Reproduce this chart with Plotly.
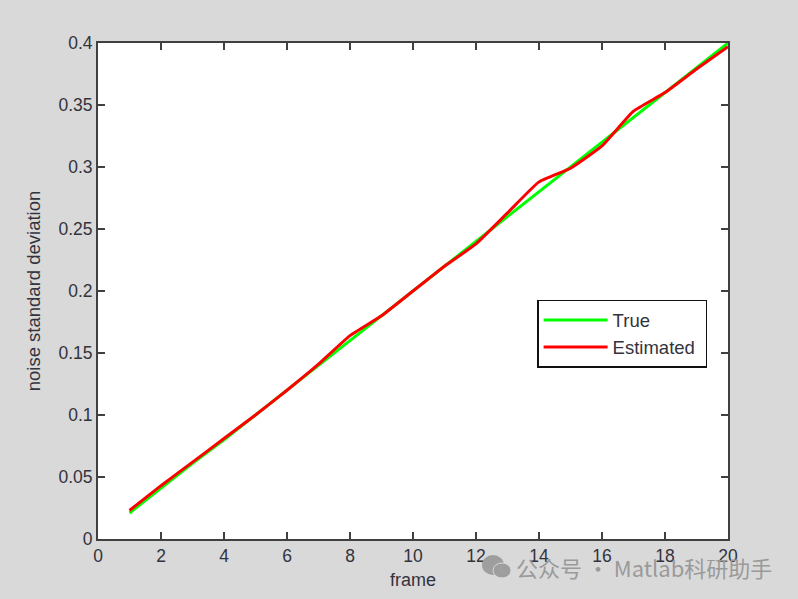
import plotly.graph_objects as go

frames = list(range(1, 21))
true_values = [0.021, 0.041, 0.061, 0.080, 0.100, 0.120, 0.140, 0.160, 0.180, 0.200,
               0.220, 0.240, 0.260, 0.280, 0.300, 0.320, 0.340, 0.360, 0.380, 0.400]
estimated_values = [0.023, 0.043, 0.062, 0.081, 0.100, 0.120, 0.141, 0.164, 0.180, 0.200,
                    0.220, 0.238, 0.263, 0.288, 0.299, 0.317, 0.345, 0.360, 0.379, 0.397]
x_ticks = list(range(0, 21, 2))
y_ticks = [0, 0.05, 0.1, 0.15, 0.2, 0.25, 0.3, 0.35, 0.4]
y_labels = ["0", "0.05", "0.1", "0.15", "0.2", "0.25", "0.3", "0.35", "0.4"]

FONT = "Liberation Sans, Arial, sans-serif"
INK = "#33333d"
BG = "#d9d9d9"

fig = go.Figure()
fig.add_trace(go.Scatter(x=frames, y=true_values, mode="lines", name="True",
                         line=dict(color="#00ff00", width=3)))
fig.add_trace(go.Scatter(x=frames, y=estimated_values, mode="lines", name="Estimated\u00a0",
                         line=dict(color="#ff0000", width=3, shape="spline", smoothing=0.4)))

axis_common = dict(showgrid=False, zeroline=False, showline=True, linecolor="#404040",
                   linewidth=2, mirror="ticks", ticks="inside", ticklen=7, tickwidth=1.5,
                   tickcolor="#404040",
                   tickfont=dict(family=FONT, size=17.5, color=INK))

fig.update_xaxes(range=[0, 20], tickvals=x_ticks, ticktext=[str(v) for v in x_ticks],
                 title=dict(text="frame", standoff=8,
                            font=dict(family=FONT, size=18, color=INK)),
                 **axis_common)
fig.update_yaxes(range=[0, 0.4], tickvals=y_ticks, ticktext=y_labels,
                 title=dict(text="noise standard deviation", standoff=13,
                            font=dict(family=FONT, size=18.5, color=INK)),
                 **axis_common)

fig.update_layout(
    width=798, height=599, autosize=False,
    margin=dict(l=98, r=70, t=43, b=60, pad=0),
    paper_bgcolor=BG, plot_bgcolor="white",
    showlegend=True,
    legend=dict(x=0.697, y=0.482, xanchor="left", yanchor="top",
                bgcolor="white", bordercolor="#111111", borderwidth=1.5,
                itemwidth=64, tracegroupgap=0,
                font=dict(family=FONT, size=18.5, color=INK)),
)

# Watermark
fig.add_annotation(xref="paper", yref="paper", x=1.0725, y=-0.0565,
                   xanchor="right", yanchor="middle", showarrow=False,
                   text="公众号 · Matlab科研助手",
                   font=dict(family="Noto Sans CJK SC, sans-serif", size=22, color="#9a9a9a"))
fig.add_shape(type="circle", xref="paper", yref="paper", layer="above",
              x0=0.6095, x1=0.6444, y0=-0.0726, y1=-0.0323,
              fillcolor="#9e9e9e", line=dict(width=0))
fig.add_shape(type="circle", xref="paper", yref="paper", layer="above",
              x0=0.6270, x1=0.6556, y0=-0.0786, y1=-0.0484,
              fillcolor="#9e9e9e", line=dict(color=BG, width=1))

fig.write_html("out.html", config={"displayModeBar": False},
               post_script="document.body.style.margin='0';")
